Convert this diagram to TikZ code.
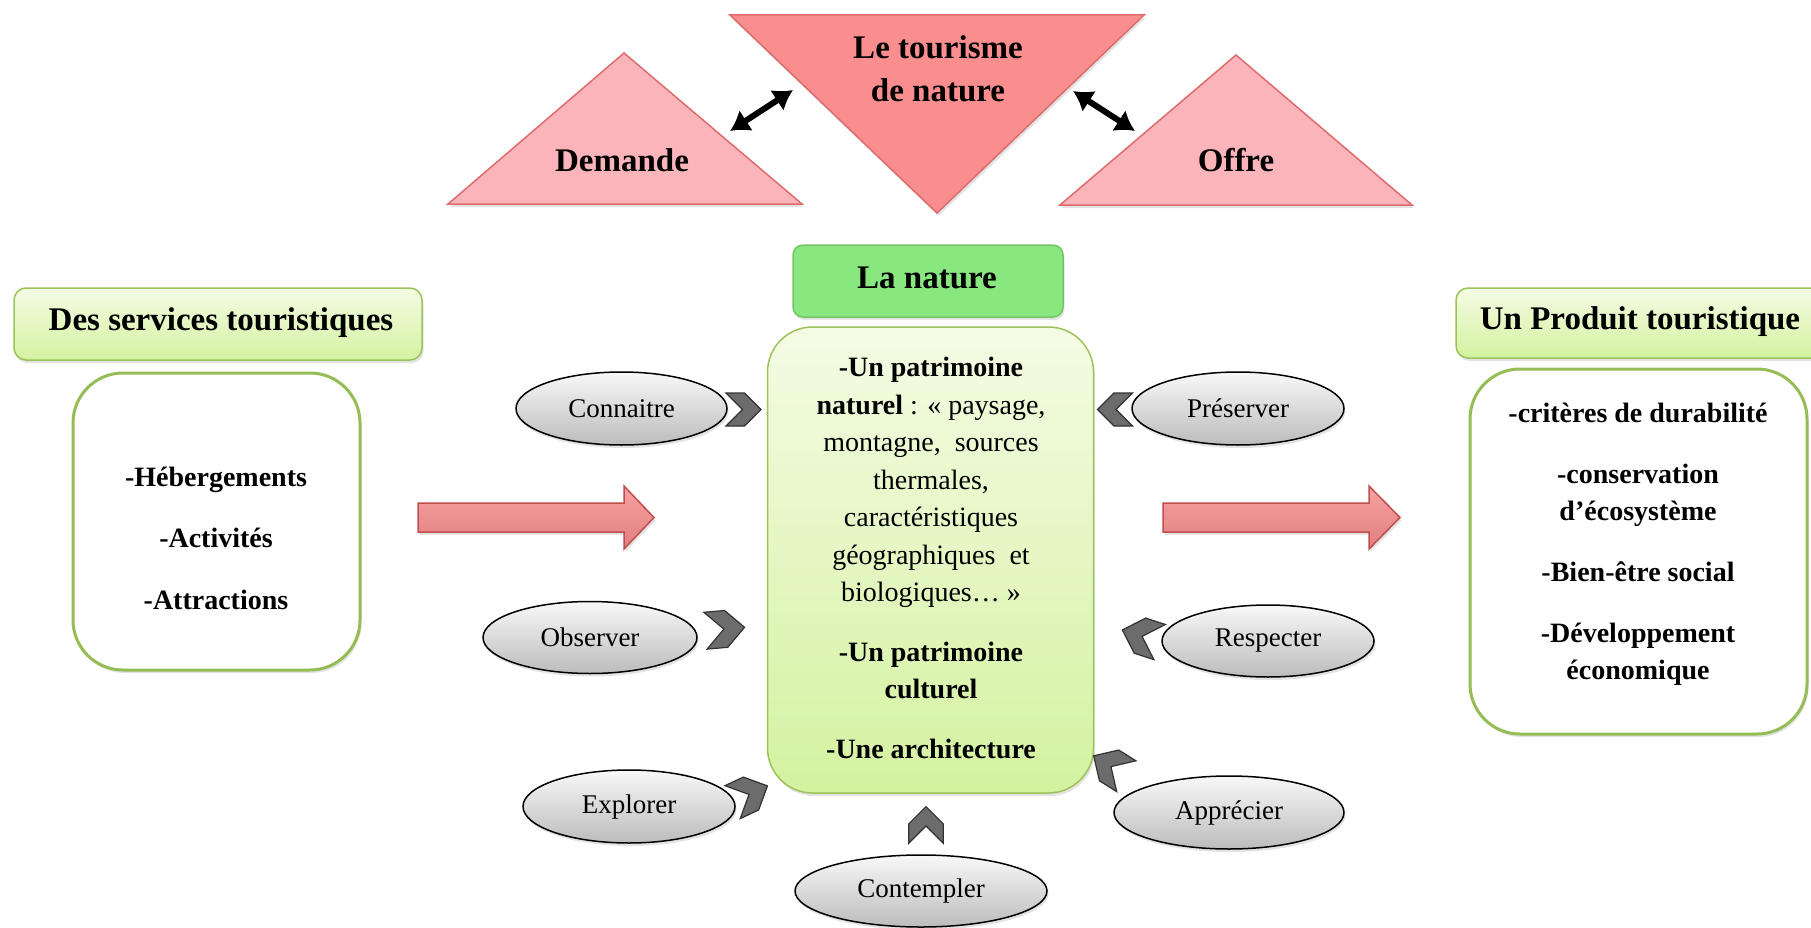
\documentclass[tikz,border=0pt]{standalone}
\usepackage{fontspec}
\setmainfont{Liberation Serif}
\usetikzlibrary{arrows.meta,shadows,shapes.geometric}
\definecolor{trimainfill}{RGB}{250,142,142}
\definecolor{trisidefill}{RGB}{250,180,186}
\definecolor{triborder}{RGB}{222,108,110}
\definecolor{naturefill}{RGB}{137,231,128}
\definecolor{natureborder}{RGB}{118,196,100}
\definecolor{gtop}{RGB}{244,251,228}
\definecolor{gbot}{RGB}{212,242,160}
\definecolor{gborder}{RGB}{155,195,90}
\definecolor{cborder}{RGB}{150,188,86}
\definecolor{elltop}{RGB}{248,248,248}
\definecolor{ellbot}{RGB}{188,188,188}
\definecolor{chevfill}{RGB}{108,108,108}
\definecolor{chevborder}{RGB}{50,50,50}
\definecolor{redfill}{RGB}{245,138,138}
\definecolor{redborder}{RGB}{192,78,78}
\begin{document}
\begin{tikzpicture}[x=1pt,y=-1pt,
  shd/.style={drop shadow={opacity=0.22,shadow xshift=1.5pt,shadow yshift=-3pt}},
  trimain/.style={fill=trimainfill,draw=triborder,line width=1.5pt,line join=miter,shd},
  triside/.style={fill=trisidefill,draw=triborder,line width=1.5pt,shd},
  bigtxt/.style={font=\fontsize{33}{43}\selectfont\bfseries,align=center,inner sep=0pt},
  bodytxt/.style={font=\fontsize{28}{37.5}\selectfont,align=center,inner sep=0pt},
  titlebox/.style={rectangle,rounded corners=12pt,top color=gtop,bottom color=gbot,draw=gborder,line width=1.5pt,shd,inner sep=0pt},
  contentbox/.style={rectangle,rounded corners=50pt,fill=white,draw=cborder,line width=3pt,shd,inner sep=0pt},
  naturebox/.style={rectangle,rounded corners=10pt,fill=naturefill,draw=natureborder,line width=1.5pt,shd,inner sep=0pt},
  mainbox/.style={rectangle,rounded corners=45pt,top color=gtop,bottom color=gbot,draw=gborder,line width=1.5pt,shd,inner sep=0pt},
  verb/.style={ellipse,top color=elltop,bottom color=ellbot,draw=black,line width=1.5pt,inner sep=0pt,shd,font=\fontsize{27}{32}\selectfont},
  chevstyle/.style={fill=chevfill,draw=chevborder,line width=1.2pt,line join=miter},
  chevpic/.pic={\path[chevstyle] (-17.5,-16.5) -- (1,-16.5) -- (17.5,0) -- (1,16.5) -- (-17.5,16.5) -- (-1,0) -- cycle;},
  blockarrow/.style={top color=redfill!80!white,bottom color=redfill!92!black,draw=redborder,line width=1.5pt,shd},
  dbl/.style={{Latex[length=19pt,width=25pt]}-{Latex[length=19pt,width=25pt]},line width=6pt,black}
]
\useasboundingbox (0,0) rectangle (1811,928);

% ---------- top triangles ----------
\coordinate (dA) at (624,53);
\coordinate (dB) at (802,204);
\coordinate (dC) at (448,204);
\draw[triside] (dA) -- (dB) -- (dC) -- cycle;
\coordinate (oA) at (1236,55);
\coordinate (oB) at (1412,205);
\coordinate (oC) at (1060,205);
\draw[triside] (oA) -- (oB) -- (oC) -- cycle;
\coordinate (tA) at (730,15);
\coordinate (tB) at (1144,15);
\coordinate (tC) at (937,213);
\draw[trimain] (tA) -- (tB) -- (tC) -- cycle;

\node[bigtxt] (tourisme) at (938,69) {Le tourisme\\de nature};
\node[bigtxt] (demande) at (622,160) {Demande};
\node[bigtxt] (offre) at (1236,160) {Offre};

\coordinate (la1) at (730,131);
\coordinate (la2) at (793,90);
\coordinate (ra1) at (1073,91);
\coordinate (ra2) at (1135,131);
\draw[dbl] (la1) -- (la2);
\draw[dbl] (ra1) -- (ra2);

% ---------- boxes ----------
\node[titlebox,minimum width=408pt,minimum height=72pt] (ltitle) at (218,324) {};
\node[bigtxt] (ltitletxt) at (221,323) {Des services touristiques};
\node[contentbox,minimum width=287pt,minimum height=297pt] (lbox) at (216.5,521.5) {};
\node[bodytxt,font=\fontsize{28}{37.5}\selectfont\bfseries] (ltxt) at (216,538) {-Hébergements\\[24pt]-Activités\\[24pt]-Attractions};

\node[titlebox,minimum width=376pt,minimum height=70pt] (rtitle) at (1644,323) {};
\node[bigtxt] (rtitletxt) at (1640,322) {Un Produit touristique};
\node[contentbox,minimum width=337pt,minimum height=365pt] (rbox) at (1638.5,551.5) {};
\node[bodytxt,font=\fontsize{28}{37}\selectfont\bfseries] (rtxt) at (1638,544) {-critères de durabilité\\[24pt]-conservation\\d’écosystème\\[24pt]-Bien-être social\\[24pt]-Développement\\économique};

\node[naturebox,minimum width=270pt,minimum height=72pt] (nature) at (928,281) {};
\node[bigtxt] (naturetxt) at (927,278) {La nature};

\node[mainbox,minimum width=326pt,minimum height=466pt] (main) at (930.5,560) {};
\node[bodytxt] (maintxt) at (931,558) {\textbf{-Un patrimoine}\\\textbf{naturel} : « paysage,\\montagne,\ \ sources\\thermales,\\caractéristiques\\géographiques\ \ et\\biologiques… »\\[22pt]\textbf{-Un patrimoine}\\\textbf{culturel}\\[22pt]\textbf{-Une architecture}};

% ---------- block arrows ----------
\coordinate (lar) at (418,503);
\path[blockarrow] (lar) -- (624,503) -- (624,486) -- (654,517.5) -- (624,549) -- (624,532) -- (418,532) -- cycle;
\coordinate (rar) at (1163,503);
\path[blockarrow] (rar) -- (1369,503) -- (1369,486) -- (1400,517.5) -- (1369,549) -- (1369,532) -- (1163,532) -- cycle;

% ---------- verbs ----------
\node[verb,minimum width=211pt,minimum height=73pt] (connaitre) at (621.5,408.5) {Connaitre};
\node[verb,minimum width=212pt,minimum height=73pt] (preserver) at (1238,408.5) {Préserver};
\node[verb,minimum width=214pt,minimum height=72pt] (observer) at (590,637.5) {Observer};
\node[verb,minimum width=212pt,minimum height=72pt] (respecter) at (1268,641) {Respecter};
\node[verb,minimum width=212pt,minimum height=73pt] (explorer) at (629,806.5) {Explorer};
\node[verb,minimum width=230pt,minimum height=73pt] (apprecier) at (1229,812.5) {Apprécier};
\node[verb,minimum width=252pt,minimum height=72pt] (contempler) at (921,891) {Contempler};

% ---------- chevrons ----------
\pic at (743.5,409.5) {chevpic};
\pic[rotate=180] at (1115,409.5) {chevpic};
\pic[rotate=5,scale=1.12] at (725,629) {chevpic};
\pic[rotate=162,scale=1.12] at (1141,636) {chevpic};
\pic[rotate=25,scale=1.1] at (750,794) {chevpic};
\pic[rotate=148,scale=1.1] at (1110,766) {chevpic};
\pic[rotate=90,scale=1.05] at (926,825) {chevpic};
\end{tikzpicture}
\end{document}
